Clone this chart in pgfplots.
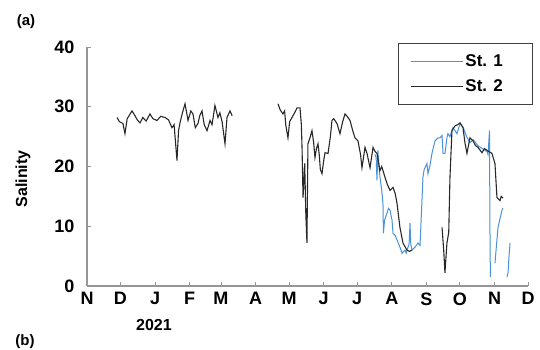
\documentclass[border=0pt]{standalone}
\usepackage{fontspec}
\setmainfont{Liberation Sans}
\usepackage{pgfplots}
\pgfplotsset{compat=1.18}
\definecolor{st1}{RGB}{74,146,218}
\definecolor{st2}{RGB}{40,40,40}
\definecolor{axgray}{RGB}{150,150,150}
\begin{document}
\begin{tikzpicture}
\useasboundingbox (0pt,0pt) rectangle (540pt,350pt);
\begin{axis}[
  at={(87pt,64pt)}, anchor=south west,
  width=441pt, height=239pt, scale only axis,
  xmin=0, xmax=395, ymin=0, ymax=40,
  axis x line*=bottom, axis y line*=left,
  axis line style={axgray, line width=1.3pt},
  xtick={0,30,61,92,120,151,181,212,242,273,304,334,365,395},
  xticklabels={N,D,J,F,M,A,M,J,J,A,S,O,N,D},
  ytick={0,10,20,30,40},
  tick align=inside, major tick length=4pt,
  tick style={axgray, line width=0.9pt},
  /pgf/number format/assume math mode=true,
  x tick label style={font=\fontsize{18}{20}\selectfont\bfseries, yshift=-3pt},
  y tick label style={font=\fontsize{18}{20}\selectfont\bfseries, xshift=-9pt},
  unbounded coords=jump,
  legend style={at={(1.012,1.017)}, anchor=north east, draw=black!75, line width=0.8pt,
    font=\fontsize{17}{19}\selectfont\bfseries, inner xsep=12pt, inner ysep=9pt,
    row sep=8pt, legend cell align=left},
  legend image code/.code={\draw[#1] (0pt,0pt) -- (52pt,0pt);},
]
\addplot[st1, line width=1pt] table {
x y
258.0 22.0
259.0 21.5
259.7 17.7
260.6 22.7
261.5 20.0
262.4 18.2
264.0 16.0
265.1 13.8
265.5 8.8
266.5 11.0
268.7 12.2
270.0 13.0
271.4 12.7
273.2 11.0
274.1 8.8
276.0 8.5
277.7 7.7
280.3 6.5
282.1 5.5
284.8 6.0
286.0 5.5
287.5 6.5
288.5 7.0
289.3 10.5
290.0 7.0
291.1 6.0
293.8 6.5
296.5 7.2
298.3 6.8
300.9 18.2
302.0 19.5
304.5 20.5
305.4 18.8
307.0 20.0
309.0 22.2
311.7 24.3
314.4 24.8
316.2 24.8
318.0 25.2
318.9 22.2
320.6 22.2
322.4 24.8
323.3 25.5
325.0 25.0
327.8 26.5
331.4 25.5
334.1 27.2
337.0 26.5
340.0 25.0
343.0 24.0
346.0 24.5
350.0 23.5
354.0 23.0
358.3 22.5
359.2 22.0
360.5 26.0
360.9 10.0
361.3 1.5
362.0 nan
365.4 3.8
368.1 9.8
371.7 12.7
372.6 13.0
374.0 nan
376.2 1.5
377.1 2.2
378.0 5.0
378.9 7.2
};
\addlegendentry{St. 1\rule{16pt}{0pt}}
\addplot[st2, line width=1.1pt] table {
x y
26.9 28.2
29.0 27.5
32.2 27.2
34.0 25.5
36.0 28.0
40.3 29.3
43.0 28.5
45.0 27.8
47.5 27.3
50.0 28.2
53.0 27.6
56.4 28.8
59.0 28.0
62.7 27.7
66.0 28.4
69.9 28.2
73.0 27.8
76.1 26.5
78.0 27.0
80.6 21.0
82.0 26.0
83.3 27.3
85.5 29.0
87.8 30.5
90.5 27.7
93.0 29.3
94.9 28.8
97.0 26.5
99.4 27.2
101.0 28.5
103.0 29.3
105.0 27.0
107.5 26.0
110.2 27.7
112.0 27.0
114.6 30.2
117.3 28.2
119.0 29.0
121.0 27.5
123.6 23.8
125.4 28.2
128.1 29.3
130.0 28.5
140.0 nan
171.1 30.5
173.0 29.5
175.5 28.8
177.0 29.3
178.0 27.0
180.0 24.8
181.5 27.5
183.6 28.2
186.0 29.0
188.1 29.8
190.8 29.8
192.0 27.0
192.6 23.2
193.5 14.8
195.0 20.5
196.0 12.0
197.0 7.2
197.9 23.8
200.0 25.0
201.5 26.0
203.0 24.0
204.2 21.5
205.5 23.0
206.9 23.8
208.0 22.0
209.0 19.5
210.5 18.8
212.0 21.0
213.2 22.3
215.9 22.2
218.0 25.0
219.4 27.7
221.0 28.0
223.9 27.2
226.6 25.5
229.0 27.5
231.1 28.8
233.0 28.4
235.6 27.7
238.0 26.0
240.0 24.8
242.7 24.3
245.0 22.0
246.3 19.8
249.0 23.2
250.8 22.2
253.5 19.8
256.2 23.2
258.0 22.5
259.7 22.2
262.4 19.3
264.0 20.0
266.9 18.2
269.0 17.0
271.4 16.0
274.1 16.5
276.0 15.5
277.7 13.8
280.3 9.8
283.0 7.2
286.6 6.0
289.0 5.8
291.0 6.0
300.0 nan
318.0 9.8
319.5 6.0
320.6 2.2
322.4 7.2
324.0 9.0
325.1 18.2
326.9 26.0
329.6 26.8
332.0 27.0
334.1 27.3
336.8 26.5
338.5 24.0
340.3 22.2
343.0 24.8
345.7 24.3
348.0 23.5
350.2 23.2
353.8 22.3
356.0 23.0
358.3 22.7
360.0 22.5
362.7 22.2
365.4 20.5
366.5 17.0
367.2 14.8
369.9 14.3
371.0 15.0
372.6 14.7
};
\addlegendentry{St. 2\rule{16pt}{0pt}}
\end{axis}
\node[rotate=90, font=\fontsize{16}{18}\selectfont\bfseries] at (23pt,171pt) {Salinity};
\node[font=\fontsize{15}{17}\selectfont\bfseries] at (26pt,328pt) {(a)};
\node[font=\fontsize{15}{17}\selectfont\bfseries] at (25pt,8pt) {(b)};
\node[font=\fontsize{16}{18}\selectfont\bfseries] at (154pt,25pt) {2021};
\end{tikzpicture}
\end{document}
